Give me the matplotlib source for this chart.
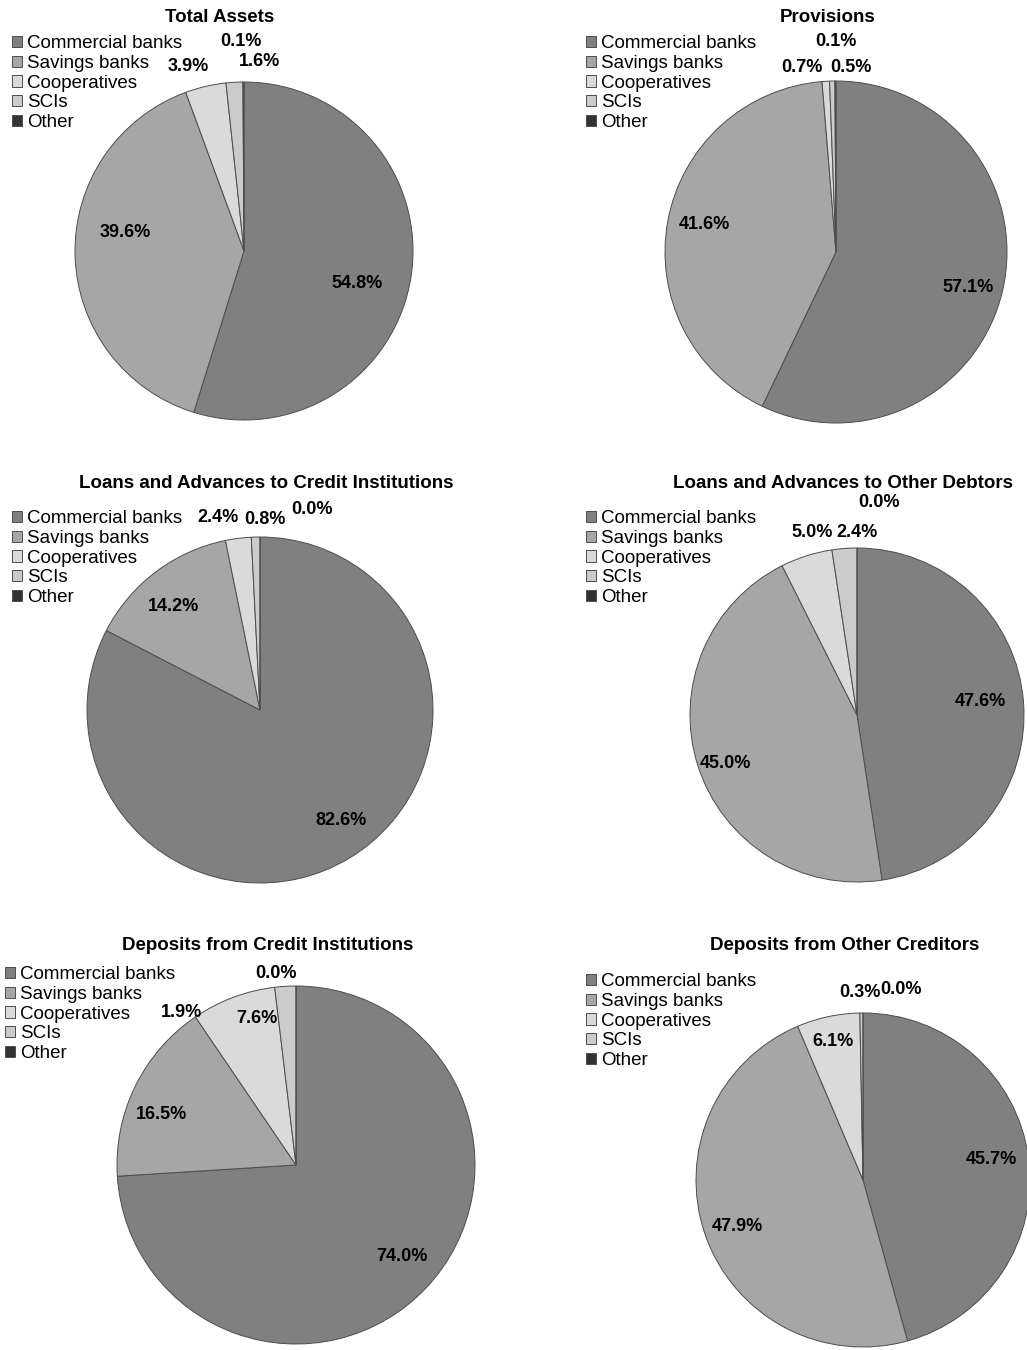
import matplotlib
matplotlib.use('Agg')
import matplotlib.pyplot as plt

plt.rcParams['font.family'] = ['Liberation Sans', 'DejaVu Sans']

# categories and shares (%) for each pie
categories = ['Commercial banks', 'Savings banks', 'Cooperatives', 'SCIs', 'Other']
titles = ['Total Assets', 'Provisions',
          'Loans and Advances to Credit Institutions', 'Loans and Advances to Other Debtors',
          'Deposits from Credit Institutions', 'Deposits from Other Creditors']
total_assets = [54.8, 39.6, 3.9, 1.6, 0.1]
provisions = [57.1, 41.6, 0.7, 0.5, 0.1]
loans_ci = [82.6, 14.2, 2.4, 0.8, 0.0]
loans_od = [47.6, 45.0, 5.0, 2.4, 0.0]
deposits_ci = [74.0, 16.5, 7.6, 1.9, 0.0]
deposits_oc = [45.7, 47.9, 6.1, 0.3, 0.0]
series = [total_assets, provisions, loans_ci, loans_od, deposits_ci, deposits_oc]

colors = ['#808080', '#a6a6a6', '#dadada', '#cbcbcb', '#333333']

W, H = 1027, 1350

# layout in pixels: pie centre, radius, title position, legend top-left
panels = [
    dict(c=(244, 251), r=169, title=(220, 17), leg=(12, 35)),
    dict(c=(836, 252), r=171, title=(828, 17), leg=(586, 35)),
    dict(c=(260, 710), r=173, title=(266, 483), leg=(12, 510)),
    dict(c=(857, 715), r=167, title=(843, 483), leg=(586, 510)),
    dict(c=(296, 1165), r=179, title=(268, 946), leg=(5, 966)),
    dict(c=(863, 1180), r=167, title=(845, 946), leg=(586, 973)),
]

# data label positions in pie-radius units (Excel "best fit" placement)
label_pos = [
    [(0.67, -0.19), (-0.70, 0.11), (-0.33, 1.09), (0.09, 1.12), (-0.02, 1.24)],
    [(0.77, -0.21), (-0.77, 0.16), (-0.20, 1.08), (0.09, 1.08), (0.0, 1.23)],
    [(0.47, -0.64), (-0.50, 0.60), (-0.24, 1.11), (0.03, 1.10), (0.30, 1.16)],
    [(0.74, 0.08), (-0.79, -0.29), (-0.27, 1.09), (0.0, 1.09), (0.13, 1.27)],
    [(0.59, -0.51), (-0.75, 0.28), (-0.22, 0.82), (-0.64, 0.85), (-0.11, 1.07)],
    [(0.77, 0.12), (-0.75, -0.28), (-0.18, 0.83), (-0.02, 1.12), (0.23, 1.14)],
]

fig = plt.figure(figsize=(W / 100, H / 100), dpi=100)

for vals, title, p, lp in zip(series, titles, panels, label_pos):
    cx, cy = p['c']
    r = p['r']
    ax = fig.add_axes([(cx - r) / W, 1 - (cy + r) / H, 2 * r / W, 2 * r / H])
    wedges, _ = ax.pie(vals, colors=colors, startangle=90, counterclock=False,
                       wedgeprops=dict(edgecolor='#4d4d4d', linewidth=0.7))
    ax.set_xlim(-1, 1)
    ax.set_ylim(-1, 1)
    ax.set_aspect('equal')
    for v, (lx, ly) in zip(vals, lp):
        ax.text(lx, ly, f'{v:.1f}%', ha='center', va='center',
                fontsize=13, fontweight='bold', color='black')

    fig.text(p['title'][0] / W, 1 - p['title'][1] / H, title, ha='center', va='center',
             fontsize=13.5, fontweight='bold')

    fig.legend(wedges, categories, loc='upper left',
               bbox_to_anchor=(p['leg'][0] / W, 1 - p['leg'][1] / H),
               frameon=False, fontsize=13.5, handlelength=0.55, handleheight=0.55,
               handletextpad=0.25, labelspacing=0.15, borderpad=0, borderaxespad=0)

fig.savefig('out.png', dpi=100, facecolor='white')
